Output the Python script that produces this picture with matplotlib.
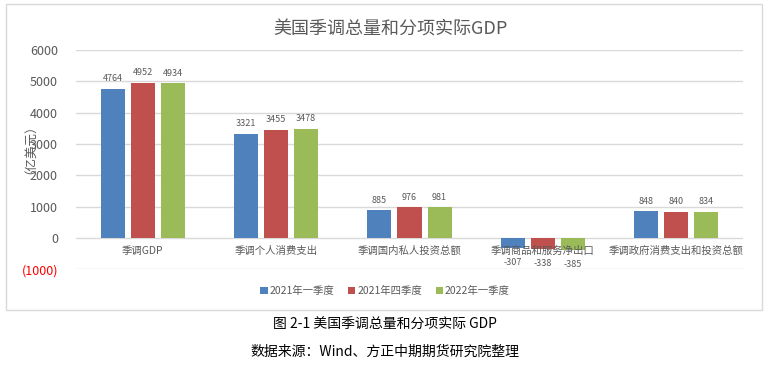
import numpy as np
import matplotlib.pyplot as plt
from matplotlib.patches import Rectangle

plt.rcParams['font.family'] = ['Noto Sans CJK SC', 'DejaVu Sans']

categories = ['季调GDP', '季调个人消费支出', '季调国内私人投资总额', '季调商品和服务净出口', '季调政府消费支出和投资总额']
series_names = ['2021年一季度', '2021年四季度', '2022年一季度']
q1_2021 = [4764, 3321, 885, -307, 848]
q4_2021 = [4952, 3455, 976, -338, 840]
q1_2022 = [4934, 3478, 981, -385, 834]
colors = ['#4f81bd', '#c0504d', '#9bbb59']
yticks = [-1000, 0, 1000, 2000, 3000, 4000, 5000, 6000]
ytick_labels = ['(1000)', '0', '1000', '2000', '3000', '4000', '5000', '6000']

fig = plt.figure(figsize=(7.75, 3.68), dpi=100)
W, H = 775, 368

# chart frame
fig.patches.append(Rectangle((6 / W, 1 - 310 / H), 756 / W, 306 / H, transform=fig.transFigure,
                             facecolor='white', edgecolor='#d9d9d9', lw=1, zorder=-1))

ax = fig.add_axes([76 / W, 1 - 269.3 / H, 667 / W, (269.3 - 50) / H])
ax.set_facecolor('none')

x = np.arange(len(categories))
width = 0.18
step = 0.225
for i, (vals, name) in enumerate(zip([q1_2021, q4_2021, q1_2022], series_names)):
    pos = x + (i - 1) * step
    ax.bar(pos, vals, width, color=colors[i], label=name, zorder=3)
    for p, v in zip(pos, vals):
        if v >= 0:
            ax.text(p, v + 180, str(v), ha='center', va='bottom', fontsize=6.5, color='#595959')
        else:
            ax.text(p, v - 330, str(v), ha='center', va='top', fontsize=6.5, color='#595959')

ax.set_xlim(-0.5, len(categories) - 0.5)
ax.set_ylim(-1000, 6000)
ax.set_yticks(yticks)
ax.set_yticklabels(ytick_labels, fontsize=9, color='#595959')
ax.get_yticklabels()[0].set_color('red')
ax.tick_params(axis='y', length=0, pad=13)
ax.set_xticks([])
ax.grid(axis='y', color='#d9d9d9', lw=1, zorder=0)
for s in ax.spines.values():
    s.set_visible(False)

for xi, c in zip(x, categories):
    ax.text(xi, -400, c, ha='center', va='center', fontsize=7.5, color='#595959', zorder=4)

fig.text(24 / W, 1 - 143 / H, '（亿美元）', rotation=90, ha='center', va='center',
         fontsize=9, color='#595959')

fig.text(390 / W, 1 - 30 / H, '美国季调总量和分项实际GDP', ha='center', va='center',
         fontsize=13, color='#595959')

leg = fig.legend(loc='center', bbox_to_anchor=(385 / W, 1 - 291 / H), ncol=3, frameon=False,
                 fontsize=7.5, handlelength=0.7, handleheight=0.7, handletextpad=0.2,
                 columnspacing=1.3)
for t in leg.get_texts():
    t.set_color('#595959')

fig.text(385 / W, 1 - 325 / H, '图 2-1 美国季调总量和分项实际 GDP', ha='center', va='center',
         fontsize=10, color='black')
fig.text(385 / W, 1 - 352 / H, '数据来源：Wind、方正中期期货研究院整理', ha='center', va='center',
         fontsize=10, color='black')

fig.savefig('out.png', dpi=100)
